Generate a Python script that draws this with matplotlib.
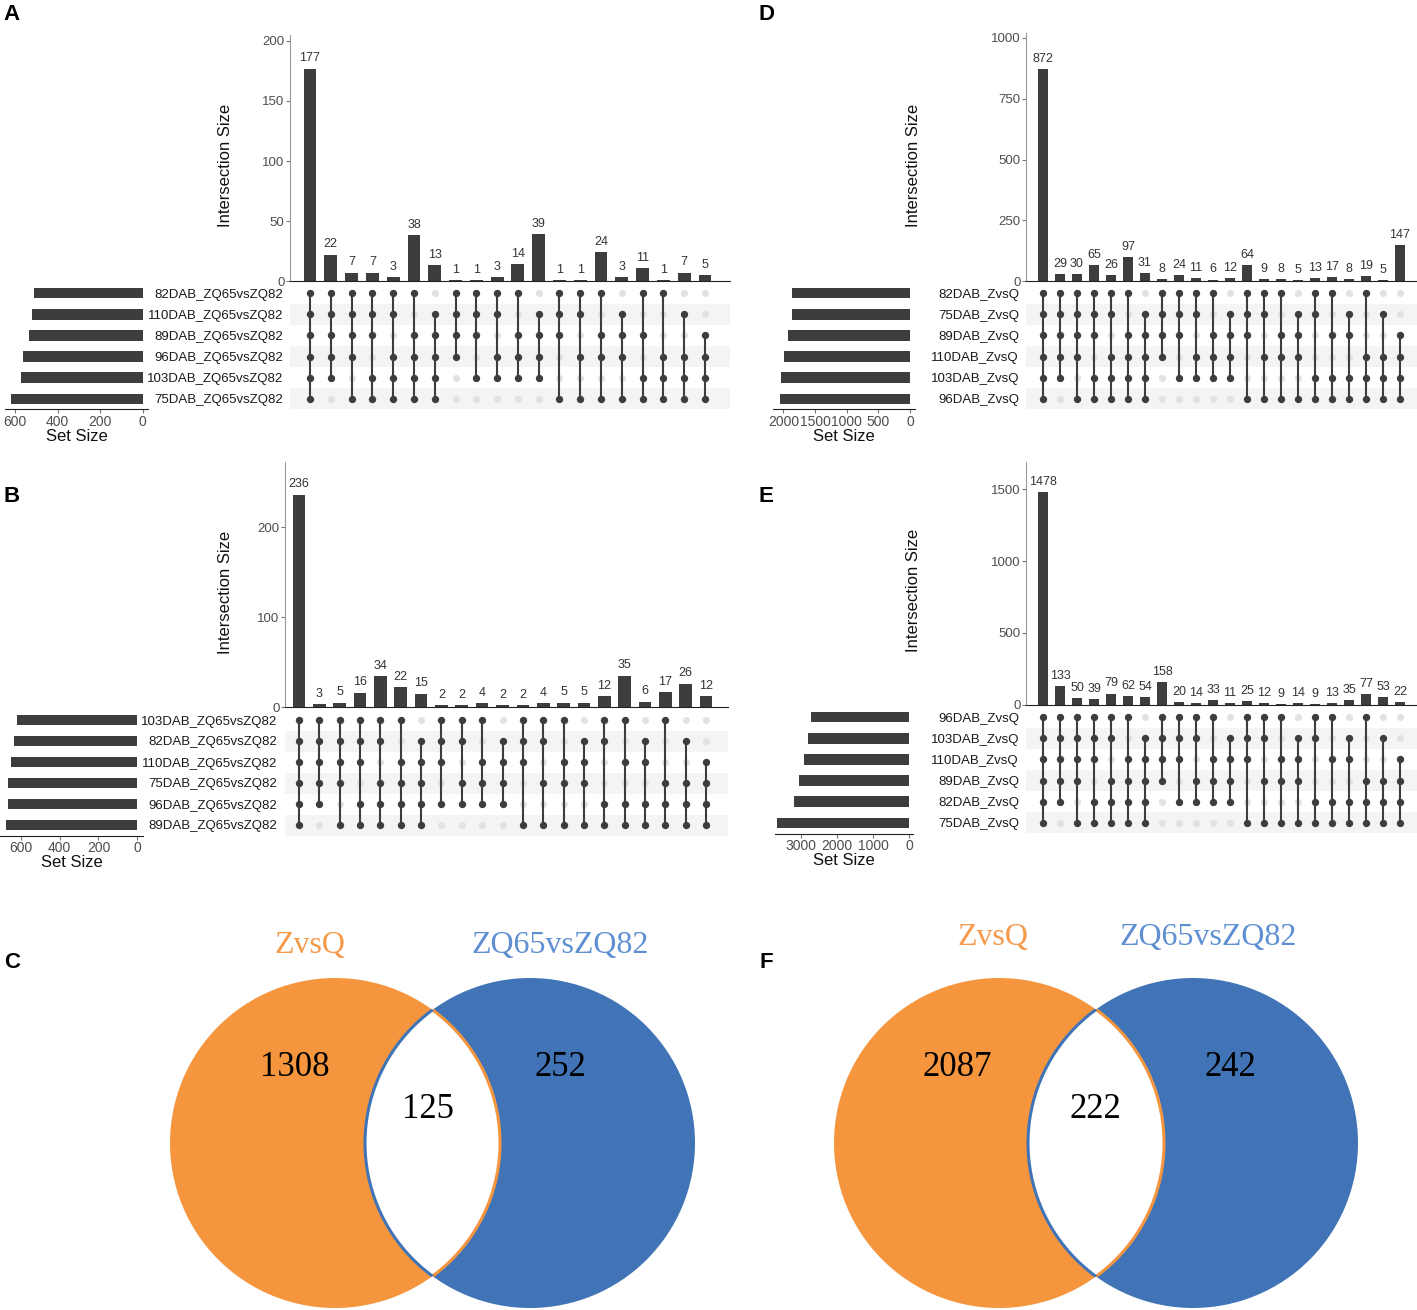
import numpy as np
import matplotlib.pyplot as plt
from matplotlib.patches import Circle

plt.rcParams['font.family'] = ['Liberation Sans', 'DejaVu Sans']

W, H = 1417, 1310
DARK = '#3d3d3d'
LIGHT_DOT = '#e2e2e2'
SHADE = '#f4f4f4'
TICK_COL = '#4d4d4d'

# ---- panel A ----
a_counts = [177, 22, 7, 7, 3, 38, 13, 1, 1, 3, 14, 39, 1, 1, 24, 3, 11, 1, 7, 5]
a_combos = ['012345', '01234', '01235', '01245', '01345', '02345', '12345',
            '0123', '0124', '0134', '0234', '1234', '0125', '0135', '0235', '1235',
            '0245', '0345', '1345', '2345']
a_sets = ['82DAB_ZQ65vsZQ82', '110DAB_ZQ65vsZQ82', '89DAB_ZQ65vsZQ82',
          '96DAB_ZQ65vsZQ82', '103DAB_ZQ65vsZQ82', '75DAB_ZQ65vsZQ82']
a_set_sizes = [511, 522, 536, 565, 571, 620]

# ---- panel B ----
b_counts = [236, 3, 5, 16, 34, 22, 15, 2, 2, 4, 2, 2, 4, 5, 5, 12, 35, 6, 17, 26, 12]
b_combos = ['012345', '01234', '01235', '01245', '01345', '02345', '12345',
            '0124', '0134', '0234', '1234', '0125', '0135', '0235', '1235',
            '0145', '0245', '1245', '0345', '1345', '2345']
b_sets = ['103DAB_ZQ65vsZQ82', '82DAB_ZQ65vsZQ82', '110DAB_ZQ65vsZQ82',
          '75DAB_ZQ65vsZQ82', '96DAB_ZQ65vsZQ82', '89DAB_ZQ65vsZQ82']
b_set_sizes = [617, 633, 651, 663, 667, 677]

# ---- panel D ----
d_counts = [872, 29, 30, 65, 26, 97, 31, 8, 24, 11, 6, 12, 64, 9, 8, 5, 13, 17, 8, 19, 5, 147]
d_combos = ['012345', '01234', '01235', '01245', '01345', '02345', '12345',
            '0123', '0124', '0134', '0234', '1234', '0125', '0135', '0235', '1235',
            '0145', '0245', '1245', '0345', '1345', '2345']
d_sets = ['82DAB_ZvsQ', '75DAB_ZvsQ', '89DAB_ZvsQ', '110DAB_ZvsQ', '103DAB_ZvsQ', '96DAB_ZvsQ']
d_set_sizes = [1865, 1870, 1927, 1990, 2031, 2057]

# ---- panel E ----
e_counts = [1478, 133, 50, 39, 79, 62, 54, 158, 20, 14, 33, 11, 25, 12, 9, 14, 9, 13, 35, 77, 53, 22]
e_combos = ['012345', '01234', '01235', '01245', '01345', '02345', '12345',
            '0123', '0124', '0134', '0234', '1234', '0125', '0135', '0235', '1235',
            '0145', '0245', '1245', '0345', '1345', '2345']
e_sets = ['96DAB_ZvsQ', '103DAB_ZvsQ', '110DAB_ZvsQ', '89DAB_ZvsQ', '82DAB_ZvsQ', '75DAB_ZvsQ']
e_set_sizes = [2720, 2800, 2915, 3055, 3195, 3665]

# ---- venn panels C and F ----
venn_names = ['ZvsQ', 'ZQ65vsZQ82']
c_venn = [1308, 125, 252]
f_venn = [2087, 222, 242]

fig = plt.figure(figsize=(W / 100, H / 100), dpi=100)


def px_axes(x0, y0, x1, y1):
    return fig.add_axes([x0 / W, 1 - y1 / H, (x1 - x0) / W, (y1 - y0) / H])


def draw_upset(counts, combos, sets, set_sizes, bar_box, mat_box, size_box,
               cols, y_scale, yticks, size_zero, size_scale, size_ticks, label_pad):
    n = len(counts)
    step = (cols[1] - cols[0]) / (n - 1)
    xl = ((bar_box[0] - cols[0]) / step, (bar_box[2] - cols[0]) / step)

    # intersection bars
    ax = px_axes(*bar_box)
    ax.bar(range(n), counts, width=0.62, color=DARK)
    for i, v in enumerate(counts):
        ax.annotate(str(v), (i, v), xytext=(0, 3), textcoords='offset points',
                    ha='center', va='bottom', fontsize=9, color='#333333')
    ax.set_xlim(xl)
    ax.set_ylim(0, (bar_box[3] - bar_box[1]) / y_scale)
    ax.set_yticks(yticks)
    ax.tick_params(axis='y', labelsize=9.5, labelcolor=TICK_COL, color='#777777', length=3, pad=1)
    ax.set_xticks([])
    for s in ['top', 'right']:
        ax.spines[s].set_visible(False)
    ax.spines['left'].set_color('#9a9a9a')
    ax.spines['bottom'].set_color('#222222')
    ax.patch.set_alpha(0)

    # matrix
    mx = px_axes(*mat_box)
    mx.set_xlim(xl)
    mx.set_ylim(len(sets) - 0.5, -0.5)
    for r in range(1, len(sets), 2):
        mx.axhspan(r - 0.5, r + 0.5, color=SHADE, lw=0, zorder=0)
    for j, c in enumerate(combos):
        rows = [int(ch) for ch in c]
        empty = [r for r in range(len(sets)) if r not in rows]
        mx.scatter([j] * len(empty), empty, s=26, color=LIGHT_DOT, zorder=2, linewidths=0)
        mx.plot([j, j], [min(rows), max(rows)], color=DARK, lw=1.5, zorder=3)
        mx.scatter([j] * len(rows), rows, s=28, color=DARK, zorder=4, linewidths=0)
    mx.set_yticks(range(len(sets)))
    mx.set_yticklabels(sets, fontsize=9.5, color='#1a1a1a')
    mx.tick_params(length=0, pad=label_pad)
    mx.set_xticks([])
    for s in mx.spines.values():
        s.set_visible(False)

    # set size bars
    sx = px_axes(*size_box)
    sx.barh(range(len(sets)), set_sizes, height=0.5, color=DARK)
    sx.set_ylim(len(sets) - 0.5, -0.5)
    sx.set_xlim((size_zero - size_box[0]) / size_scale, (size_zero - size_box[2]) / size_scale)
    sx.set_xticks(size_ticks)
    sx.tick_params(axis='x', labelsize=10, labelcolor=TICK_COL, color='#777777', length=3, pad=1)
    sx.set_yticks([])
    for s in ['top', 'right', 'left']:
        sx.spines[s].set_visible(False)
    sx.spines['bottom'].set_color('#222222')
    sx.set_xlabel('Set Size', fontsize=12, labelpad=0, color='#111111')
    sx.patch.set_alpha(0)


draw_upset(a_counts, a_combos, a_sets, a_set_sizes,
           bar_box=(290, 35, 730, 281), mat_box=(290, 282.5, 730, 409.5),
           size_box=(5, 282.5, 148, 409.5), cols=(310, 705), y_scale=1.2,
           yticks=[0, 50, 100, 150, 200], size_zero=142.7, size_scale=0.2125,
           size_ticks=[0, 200, 400, 600], label_pad=5)
draw_upset(b_counts, b_combos, b_sets, b_set_sizes,
           bar_box=(285, 462, 728, 707), mat_box=(285, 709.5, 728, 835.5),
           size_box=(0, 709.5, 143, 835.5), cols=(299, 706), y_scale=0.9,
           yticks=[0, 100, 200], size_zero=137.3, size_scale=0.1943,
           size_ticks=[0, 200, 400, 600], label_pad=5.5)
draw_upset(d_counts, d_combos, d_sets, d_set_sizes,
           bar_box=(1026, 33, 1417, 281), mat_box=(1026, 282.5, 1417, 409.5),
           size_box=(773, 282.5, 915, 409.5), cols=(1043, 1400), y_scale=0.243,
           yticks=[0, 250, 500, 750, 1000], size_zero=910, size_scale=0.0633,
           size_ticks=[0, 500, 1000, 1500, 2000], label_pad=5)
draw_upset(e_counts, e_combos, e_sets, e_set_sizes,
           bar_box=(1026, 462, 1417, 705), mat_box=(1026, 706.5, 1417, 833.5),
           size_box=(775, 706.5, 913, 833.5), cols=(1043, 1400), y_scale=0.144,
           yticks=[0, 500, 1000, 1500], size_zero=909, size_scale=0.036,
           size_ticks=[0, 1000, 2000, 3000], label_pad=5)

for x, y in [(225, 165), (225, 592), (913, 165), (913, 590)]:
    fig.text(x / W, 1 - y / H, 'Intersection Size', rotation=90, ha='center', va='center',
             fontsize=12, color='#111111')

# venn diagrams in pixel coordinates
vax = fig.add_axes([0, 0, 1, 1], zorder=-1)
vax.set_xlim(0, W)
vax.set_ylim(H, 0)
vax.axis('off')

ORANGE = '#f5963f'
BLUE = '#4174b6'


def draw_venn(values, cx_left, cx_right, cy, r, name_pos, num_pos):
    left = Circle((cx_left, cy), r, facecolor=ORANGE, edgecolor='none')
    right = Circle((cx_right, cy), r, facecolor=BLUE, edgecolor='none')
    vax.add_patch(left)
    vax.add_patch(right)
    lens = Circle((cx_right, cy), r, facecolor='white', edgecolor='none')
    vax.add_patch(lens)
    lens.set_clip_path(left)
    edge_l = Circle((cx_left, cy), r, facecolor='none', edgecolor=ORANGE, lw=2.2)
    vax.add_patch(edge_l)
    edge_l.set_clip_path(right)
    edge_r = Circle((cx_right, cy), r, facecolor='none', edgecolor=BLUE, lw=2.2)
    vax.add_patch(edge_r)
    edge_r.set_clip_path(left)
    for name, col, (x, y) in zip(venn_names, ['#f5994a', '#5e8fd3'], name_pos):
        vax.text(x, y, name, ha='center', va='center', fontsize=23, color=col,
                 family='Liberation Serif')
    for v, (x, y) in zip(values, num_pos):
        vax.text(x, y, str(v), ha='center', va='center', fontsize=25, color='black',
                 family='Liberation Serif')


draw_venn(c_venn, 335, 530, 1143, 165,
          name_pos=[(310, 946), (560, 946)],
          num_pos=[(295, 1067), (428, 1110), (560, 1067)])
draw_venn(f_venn, 999, 1193, 1143, 165,
          name_pos=[(993, 938), (1208, 938)],
          num_pos=[(957, 1067), (1095, 1110), (1230, 1067)])

for letter, x, y in [('A', 12, 15), ('B', 12, 497), ('C', 12, 962),
                     ('D', 766, 15), ('E', 766, 497), ('F', 766, 962)]:
    fig.text(x / W, 1 - y / H, letter, ha='center', va='center', fontsize=16,
             fontweight='bold', color='black')

fig.savefig('out.png', dpi=100)
